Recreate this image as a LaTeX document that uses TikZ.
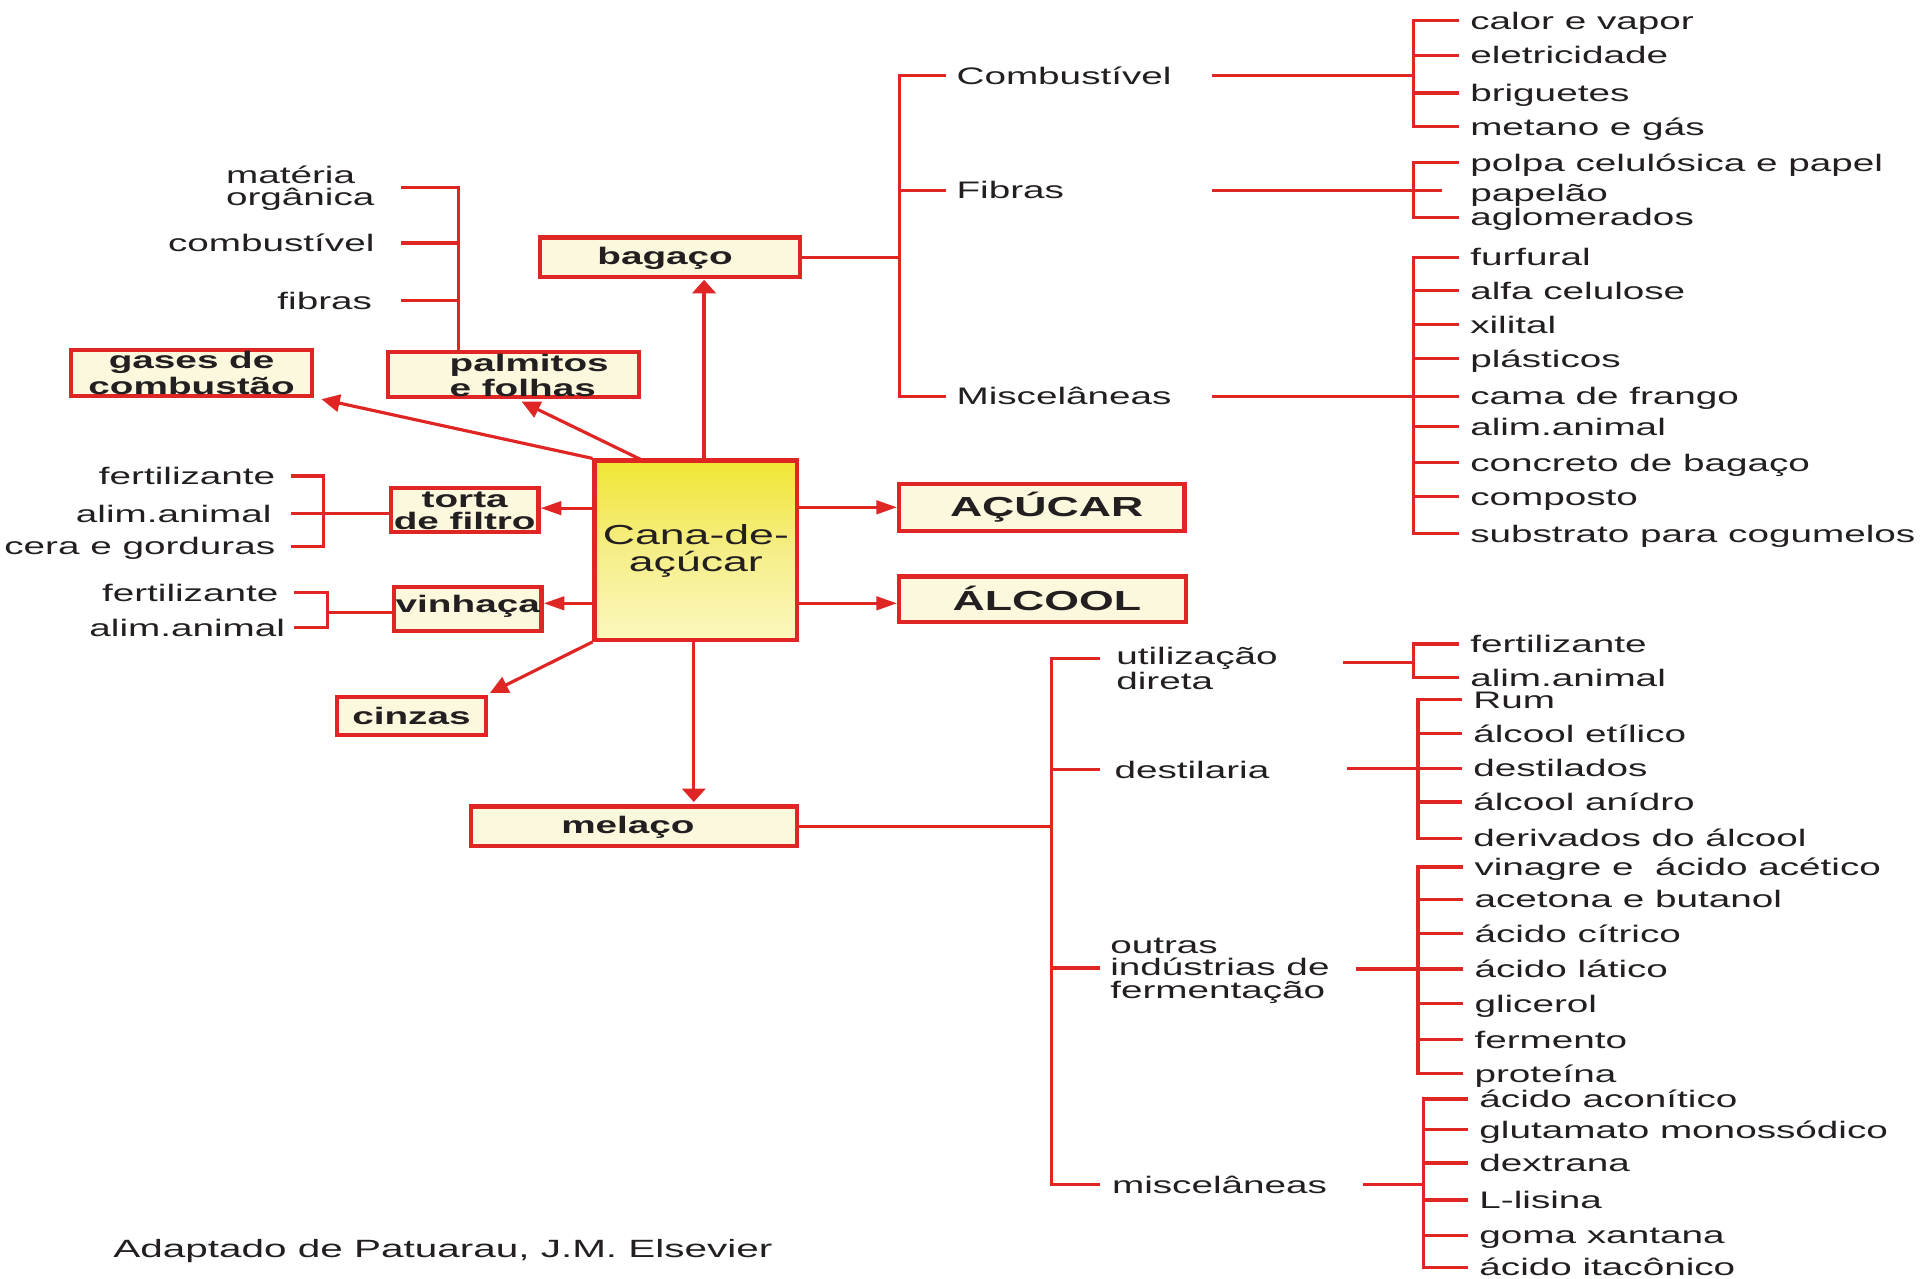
\documentclass[tikz,border=0pt]{standalone}
\usepackage{fontspec}
\usetikzlibrary{arrows.meta}
\newfontfamily\lblfont[FakeStretch=1.62]{Liberation Sans}
\definecolor{cred}{RGB}{224,38,36}
\definecolor{ctext}{RGB}{35,31,32}
\definecolor{cfill}{RGB}{251,248,222}
\definecolor{ctop}{RGB}{240,230,50}
\definecolor{cmid}{RGB}{245,238,135}
\definecolor{cbot}{RGB}{251,247,190}
\newcommand\lbl{\lblfont\fontsize{19.5}{18.5}\selectfont}
\newcommand\blbl{\lblfont\bfseries\fontsize{19.5}{18.5}\selectfont}
\newcommand\bigblbl{\lblfont\bfseries\fontsize{22.5}{22}\selectfont}
\newcommand\canalbl{\lblfont\fontsize{22.5}{22}\selectfont}
\newcommand\ls{\rule[-1.5pt]{0pt}{17pt}}
\newcommand\lsb{\rule[-2.5pt]{0pt}{20.7pt}}
\tikzset{
 ln/.style={draw=cred, line width=2.6pt},
 arrH/.style={ln, -{Triangle[length=17pt,width=11pt]}},
 arrV/.style={ln, -{Triangle[length=11pt,width=19pt]}},
 arrD/.style={ln, -{Triangle[length=15pt,width=14pt]}},
 lab/.style={font=\lbl, text=ctext, inner sep=0pt, text height=15.5pt, text depth=1.5pt},
 labw/.style={lab, anchor=west},
 labe/.style={lab, anchor=east},
 mlab/.style={font=\lbl, text=ctext, inner sep=0pt, align=left},
 box/.style={draw=cred, line width=3.4pt, fill=cfill, inner sep=0pt, font=\blbl, text=ctext, align=center},
 bigbox/.style={box, font=\bigblbl},
 cbox/.style={draw=cred, line width=3.4pt, top color=ctop, bottom color=cbot, middle color=cmid,
   inner sep=0pt, font=\canalbl, text=ctext, align=center, minimum width=165.5pt, minimum height=146.5pt}
}
\begin{document}
\begin{tikzpicture}[x=1pt,y=-1pt]
\useasboundingbox (0,0) rectangle (1568,1043.7);

% ---------- main boxes ----------
\node[cbox] (cana) at (568.3,449.3) {\lsb Cana-de-\\\lsb açúcar};
\node[box, minimum width=212.5pt, minimum height=32pt] (bagaco) at (547.2,210) {\ls\hspace*{-8pt}bagaço};
\node[box, minimum width=197pt, minimum height=37.5pt] (gases) at (156.5,304.6) {\ls gases de\\\ls combustão};
\node[box, minimum width=205pt, minimum height=37pt] (palm) at (419.5,305.8) {};
\node[mlab, font=\blbl, anchor=west] (palmt) at (367,306.5) {\ls palmitos\\\ls e folhas};
\node[box, minimum width=120.5pt, minimum height=35pt] (torta) at (379.5,416.5) {\ls torta\\\ls de filtro};
\node[box, minimum width=120.5pt, minimum height=36pt] (vinhaca) at (382,497.2) {\rule[-9.5pt]{0pt}{25pt}vinhaça};
\node[box, minimum width=121.5pt, minimum height=31pt] (cinzas) at (336,584.7) {\ls cinzas};
\node[box, minimum width=266pt, minimum height=32pt] (melaco) at (517.8,674.7) {\ls\hspace*{-10pt}melaço};
\node[bigbox, minimum width=233pt, minimum height=38.5pt] (acucar) at (850.8,414.2) {\lsb\hspace*{8pt}AÇÚCAR};
\node[bigbox, minimum width=234pt, minimum height=37.5pt] (alcool) at (851.5,489.5) {\lsb\hspace*{7pt}ÁLCOOL};

% ---------- arrows from cana ----------
\coordinate (tipBag) at (575,228.5);
\coordinate (tipGas) at (262.5,326);
\coordinate (sPal) at (524,375.6);
\coordinate (tipPal) at (426,328);
\coordinate (tipTor) at (441.5,415);
\coordinate (tipVin) at (444,492.7);
\coordinate (tipCin) at (400,566);
\coordinate (tipMel) at (566.6,655);
\coordinate (tipAcu) at (732.6,414.3);
\coordinate (tipAlc) at (732.6,492.7);
\draw[arrV] (cana.north -| tipBag) -- (tipBag);
\draw[arrD] (cana.north west) -- (tipGas);
\draw[arrD] (sPal) -- (tipPal);
\draw[arrH] (cana.west |- tipTor) -- (tipTor);
\draw[arrH] (cana.west |- tipVin) -- (tipVin);
\draw[arrD] (cana.south west) -- (tipCin);
\draw[arrV] (cana.south -| tipMel) -- (tipMel);
\draw[arrH] (cana.east |- tipAcu) -- (tipAcu);
\draw[arrH] (cana.east |- tipAlc) -- (tipAlc);

% ---------- palmitos bracket ----------
\node[mlab, anchor=east] (mat) at (306,153) {\ls matéria\\\ls orgânica};
\node[labe] (pcomb) at (306,198.5) {combustível};
\node[labe] (pfib) at (304,245.5) {fibras};
\coordinate (pmS) at (327.6,0);
\coordinate (pmB) at (374.5,0);
\draw[ln] (mat.east -| pmS) -- (mat.east -| pmB) -- (palm.north -| pmB);
\draw[ln] (pcomb.east -| pmS) -- (pcomb.east -| pmB);
\draw[ln] (pfib.east -| pmS) -- (pfib.east -| pmB);

% ---------- torta bracket ----------
\node[labe] (tr1) at (225,388.7) {fertilizante};
\node[labe] (tr2) at (222,419.3) {alim.animal};
\node[labe] (tr3) at (225,446) {cera e gorduras};
\coordinate (trS) at (237.5,0);
\coordinate (trB) at (264,0);
\draw[ln] (tr1.east -| trS) -- (tr1.east -| trB) -- (tr3.east -| trB) -- (tr3.east -| trS);
\draw[ln] (tr2.east -| trS) -- (torta.west |- tr2.east);

% ---------- vinhaça bracket ----------
\node[labe] (vn1) at (227.5,484) {fertilizante};
\node[labe] (vn2) at (233,512.5) {alim.animal};
\coordinate (vnS) at (240,0);
\coordinate (vnM) at (267.5,500);
\draw[ln] (vn1.east -| vnS) -- (vn1.east -| vnM) -- (vn2.east -| vnM) -- (vn2.east -| vnS);
\draw[ln] (vnM) -- (vinhaca.west |- vnM);

% ---------- bagaço bracket ----------
\coordinate (bgB) at (734.5,209.3);
\node[labw] (comb) at (781,61.7) {Combustível};
\node[labw] (fibr) at (781,155.3) {Fibras};
\node[labw] (misc) at (781,323.5) {Miscelâneas};
\draw[ln] (bagaco.east) -- (bagaco.east -| bgB);
\draw[ln] ([xshift=-8.4pt]comb.west) -- (comb.west -| bgB) -- (misc.west -| bgB) -- ([xshift=-8.4pt]misc.west);
\draw[ln] (fibr.west -| bgB) -- ([xshift=-8.4pt]fibr.west);

% Combustível products
\coordinate (cbS) at (990,61.7);
\coordinate (cbB) at (1154.6,61.7);
\foreach \n/\y/\txt in {1/16.7/calor e vapor,2/45/eletricidade,3/76/briguetes,4/103.5/metano e gás}
  \node[labw] (cb\n) at (1200.5,\y) {\txt};
\draw[ln] (cbS) -- (cbB);
\draw[ln] ([xshift=-9pt]cb1.west) -- (cb1.west -| cbB) -- (cb4.west -| cbB) -- ([xshift=-9pt]cb4.west);
\foreach \n in {2,3} \draw[ln] (cb\n.west -| cbB) -- ([xshift=-9pt]cb\n.west);

% Fibras products
\coordinate (fbS) at (990,155.3);
\coordinate (fbE) at (1177.6,155.3);
\coordinate (fbB) at (1154.6,155.3);
\foreach \n/\y/\txt in {1/133/polpa celulósica e papel,2/157.7/papelão,3/177.5/aglomerados}
  \node[labw] (fb\n) at (1200.5,\y) {\txt};
\draw[ln] (fbS) -- (fbE);
\draw[ln] ([xshift=-9pt]fb1.west) -- (fb1.west -| fbB) -- (fb3.west -| fbB) -- ([xshift=-9pt]fb3.west);

% Miscelâneas products
\coordinate (msS) at (990,323.5);
\coordinate (msB) at (1154.6,323.5);
\foreach \n/\y/\txt in {1/210/furfural,2/237.5/alfa celulose,3/265/xilital,4/293/plásticos,5/323.5/cama de frango,6/348.5/alim.animal,7/378/concreto de bagaço,8/405.7/composto,9/436/substrato para cogumelos}
  \node[labw] (ms\n) at (1200.5,\y) {\txt};
\draw[ln] (msS) -- (msB);
\draw[ln] ([xshift=-9pt]ms1.west) -- (ms1.west -| msB) -- (ms9.west -| msB) -- ([xshift=-9pt]ms9.west);
\foreach \n in {2,...,8} \draw[ln] (ms\n.west -| msB) -- ([xshift=-9pt]ms\n.west);

% ---------- melaço bracket ----------
\coordinate (mlB) at (859,675.5);
\coordinate (mT1) at (898,537.6);
\coordinate (mT2) at (898,628.5);
\coordinate (mT3) at (898,790.5);
\coordinate (mT4) at (898,967.5);
\node[mlab, anchor=west] (m1) at (911.5,546) {\ls utilização\\\ls direta};
\node[labw] (m2) at (910,628.5) {destilaria};
\node[mlab, anchor=west] (m3) at (906.5,791.3) {\ls outras\\\ls indústrias de\\\ls fermentação};
\node[labw] (m4) at (908,967.5) {miscelâneas};
\draw[ln] (melaco.east) -- (melaco.east -| mlB);
\draw[ln] (mT1) -- (mT1 -| mlB) -- (mT4 -| mlB) -- (mT4);
\draw[ln] (mT2 -| mlB) -- (mT2);
\draw[ln] (mT3 -| mlB) -- (mT3);

% utilização direta products
\coordinate (udS) at (1097,541);
\coordinate (udB) at (1154.5,541);
\node[labw] (ud1) at (1200.5,526) {fertilizante};
\node[labw] (ud2) at (1200.5,553.5) {alim.animal};
\draw[ln] (udS) -- (udB);
\draw[ln] ([xshift=-9pt]ud1.west) -- (ud1.west -| udB) -- (ud2.west -| udB) -- ([xshift=-9pt]ud2.west);

% destilaria products
\coordinate (dsS) at (1100,627.4);
\coordinate (dsB) at (1158,627.4);
\foreach \n/\y/\txt in {1/571.4/Rum,2/599/álcool etílico,3/627.4/destilados,4/655/álcool anídro,5/684.5/derivados do álcool}
  \node[labw] (ds\n) at (1203,\y) {\txt};
\draw[ln] (dsS) -- (dsB);
\draw[ln] ([xshift=-9pt]ds1.west) -- (ds1.west -| dsB) -- (ds5.west -| dsB) -- ([xshift=-9pt]ds5.west);
\foreach \n in {2,3,4} \draw[ln] (ds\n.west -| dsB) -- ([xshift=-9pt]ds\n.west);

% outras indústrias products
\coordinate (ofS) at (1107,791.3);
\coordinate (ofB) at (1158,791.3);
\foreach \n/\y/\txt in {1/708/vinagre e~~ácido acético,2/734.4/acetona e butanol,3/762.3/ácido cítrico,4/791.3/ácido lático,5/819.5/glicerol,6/849/fermento,7/877/proteína}
  \node[labw] (of\n) at (1204,\y) {\txt};
\draw[ln] (ofS) -- (ofB);
\draw[ln] ([xshift=-9pt]of1.west) -- (of1.west -| ofB) -- (of7.west -| ofB) -- ([xshift=-9pt]of7.west);
\foreach \n in {2,...,6} \draw[ln] (of\n.west -| ofB) -- ([xshift=-9pt]of\n.west);

% miscelâneas products
\coordinate (mxS) at (1113,967);
\coordinate (mxB) at (1162.5,967);
\foreach \n/\y/\txt in {1/897.5/ácido aconítico,2/922.7/glutamato monossódico,3/949.7/dextrana,4/980/L-lisina,5/1008.7/goma xantana,6/1035/ácido itacônico}
  \node[labw] (mx\n) at (1208,\y) {\txt};
\draw[ln] (mxS) -- (mxB);
\draw[ln] ([xshift=-9pt]mx1.west) -- (mx1.west -| mxB) -- (mx6.west -| mxB) -- ([xshift=-9pt]mx6.west);
\foreach \n in {2,...,5} \draw[ln] (mx\n.west -| mxB) -- ([xshift=-9pt]mx\n.west);

% ---------- source ----------
\node[labw, font=\lblfont\fontsize{20.4}{20}\selectfont] (src) at (92.4,1020) {Adaptado de Patuarau, J.M. Elsevier};
\end{tikzpicture}
\end{document}
